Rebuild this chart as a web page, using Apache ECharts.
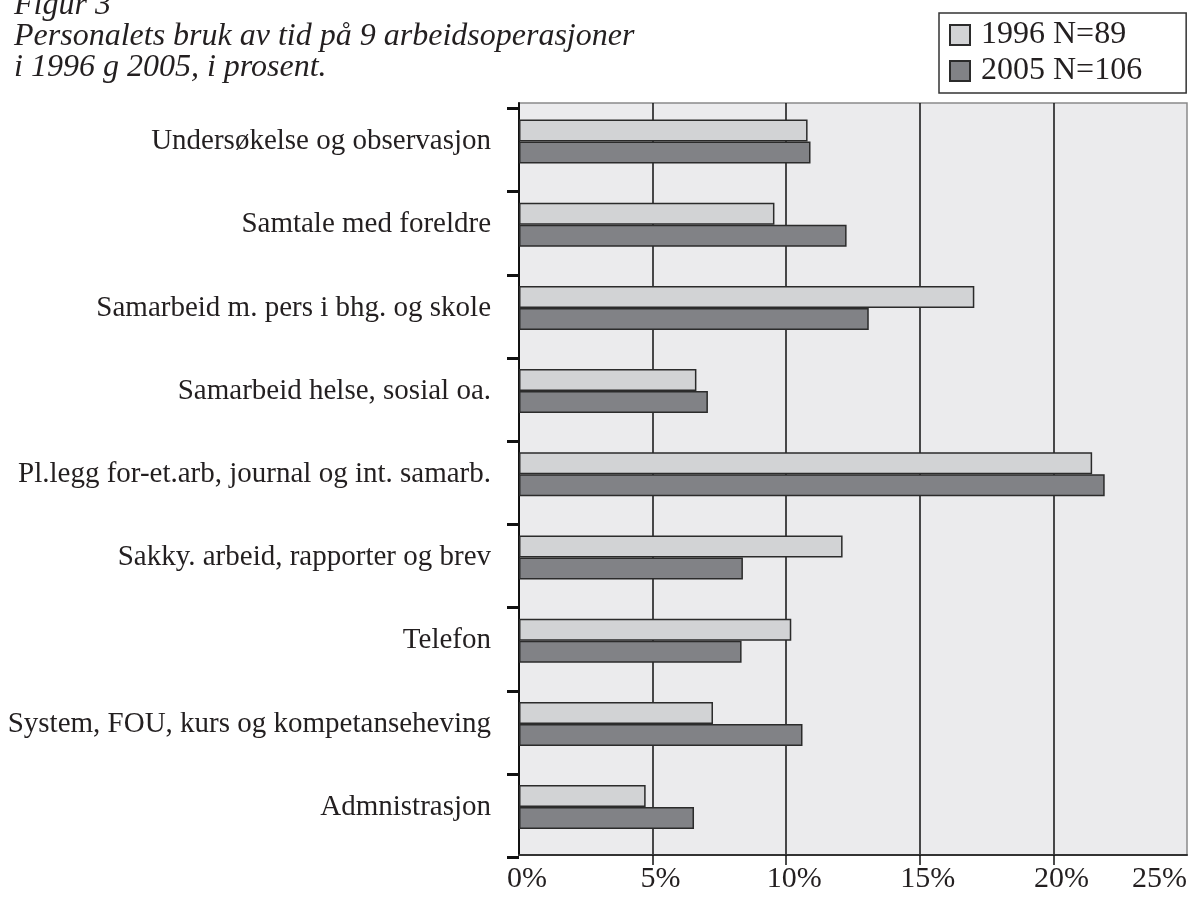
<!DOCTYPE html>
<html>
<head>
<meta charset="utf-8">
<script src="https://cdn.jsdelivr.net/npm/echarts@6/dist/echarts.min.js"></script>
<style>
html, body { margin: 0; padding: 0; background: #fff; }
#chart { width: 1196px; height: 899px; }
</style>
</head>
<body>
<div id="chart"></div>
<script>
var categories = [
    'Undersøkelse og observasjon',
    'Samtale med foreldre',
    'Samarbeid m. pers i bhg. og skole',
    'Samarbeid helse, sosial oa.',
    'Pl.legg for-et.arb, journal og int. samarb.',
    'Sakky. arbeid, rapporter og brev',
    'Telefon',
    'System, FOU, kurs og kompetanseheving',
    'Admnistrasjon'
];
var values1996 = [10.8, 9.56, 17.04, 6.64, 21.45, 12.11, 10.19, 7.26, 4.74];
var values2005 = [10.91, 12.26, 13.09, 7.07, 21.92, 8.38, 8.33, 10.61, 6.55];
var seriesNames = ['1996 N=89', '2005 N=106'];
var xTicks = [5, 10, 15, 20];

var font = 'Liberation Serif';
var ink = '#231f20';

var myChart = echarts.init(document.getElementById('chart'));
var option = {
    animation: false,
    backgroundColor: '#fff',
    title: {
        text: 'Figur 3\nPersonalets bruk av tid på 9 arbeidsoperasjoner\ni 1996 g 2005, i prosent.',
        left: 14,
        top: -10,
        padding: 0,
        textStyle: {
            fontFamily: font,
            fontStyle: 'italic',
            fontWeight: 'normal',
            fontSize: 32,
            lineHeight: 31,
            color: ink
        }
    },
    legend: {
        orient: 'vertical',
        left: 939,
        top: 13,
        padding: [6, 44, 6, 10],
        itemGap: 4,
        itemWidth: 20,
        itemHeight: 20,
        borderColor: '#333',
        borderWidth: 1.5,
        borderRadius: 0,
        icon: 'rect',
        selectedMode: false,
        textStyle: {
            fontFamily: font,
            fontSize: 32,
            color: ink,
            padding: [0, 0, 0, 6]
        },
        data: seriesNames
    },
    grid: [
        // plot area
        { left: 519, right: 9, top: 103, height: 752, show: true, backgroundColor: '#ebebed', borderColor: '#8a8a8a', borderWidth: 1.5 },
        // bars + category labels
        { left: 519, right: 9, top: 99.9, height: 748.8 },
        // left tick marks
        { left: 519, right: 9, top: 108.5, height: 748.8 }
    ],
    xAxis: [
        {
            gridIndex: 0,
            type: 'value',
            min: 0,
            max: 25,
            interval: 5,
            axisLine: { show: true, lineStyle: { color: '#333', width: 2 } },
            axisTick: { show: true, customValues: xTicks, length: 10, lineStyle: { color: '#111', width: 1.5 } },
            splitLine: { show: true, lineStyle: { color: '#111', width: 1.5 } },
            axisLabel: {
                formatter: '{value}%',
                fontFamily: font,
                fontSize: 30,
                color: ink,
                margin: 9,
                padding: [0, 0, 0, 16],
                alignMaxLabel: 'right'
            }
        },
        { gridIndex: 1, type: 'value', min: 0, max: 25, show: false },
        { gridIndex: 2, type: 'value', min: 0, max: 25, show: false }
    ],
    yAxis: [
        {
            gridIndex: 0,
            type: 'category',
            data: categories,
            axisLine: { show: true, lineStyle: { color: '#111', width: 2 } },
            axisTick: { show: false },
            axisLabel: { show: false },
            splitLine: { show: false }
        },
        {
            gridIndex: 1,
            type: 'category',
            inverse: true,
            data: categories,
            axisLine: { show: false },
            axisTick: { show: false },
            axisLabel: { fontFamily: font, fontSize: 29, color: ink, margin: 28 }
        },
        {
            gridIndex: 2,
            type: 'category',
            data: categories,
            axisLine: { show: false },
            axisTick: { show: true, length: 12, lineStyle: { color: '#111', width: 3 } },
            axisLabel: { show: false }
        }
    ],
    series: [
        {
            name: seriesNames[0],
            type: 'bar',
            xAxisIndex: 1,
            yAxisIndex: 1,
            data: values1996,
            barWidth: 22,
            barGap: '0%',
            itemStyle: { color: '#d2d3d5', borderColor: '#2b2b2b', borderWidth: 1.5 }
        },
        {
            name: seriesNames[1],
            type: 'bar',
            xAxisIndex: 1,
            yAxisIndex: 1,
            data: values2005,
            barWidth: 22,
            barGap: '0%',
            itemStyle: { color: '#818286', borderColor: '#2b2b2b', borderWidth: 1.5 }
        }
    ]
};
myChart.setOption(option, true);
</script>
</body>
</html>
